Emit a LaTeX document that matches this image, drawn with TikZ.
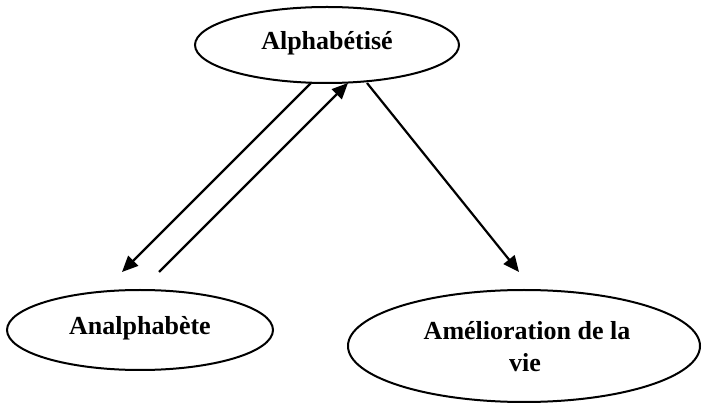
\documentclass[tikz,border=0pt]{standalone}
\usepackage{fontspec}
\setmainfont{Liberation Serif}
\usetikzlibrary{shapes.geometric,arrows.meta}
\begin{document}
\begin{tikzpicture}[x=1pt,y=-1pt,
  bubble/.style={draw,line width=2pt,ellipse,inner sep=0pt},
  lbl/.style={font=\fontsize{26}{31}\selectfont\bfseries,align=center},
  link/.style={line width=2.2pt,-{Triangle[length=16pt,width=14pt]}}]
  \useasboundingbox (0,0) rectangle (702,403);
  % the three states
  \node[bubble,minimum width=264pt,minimum height=76pt] (alpha) at (327,45) {};
  \node[bubble,minimum width=266pt,minimum height=80pt] (analpha) at (140,330) {};
  \node[bubble,minimum width=352pt,minimum height=112pt] (amelio) at (524,346) {};
  % labels
  \node[lbl,anchor=base] (talpha) at (327,50) {Alphabétisé};
  \node[lbl,anchor=base] (tanalpha) at (140,335) {Analphabète};
  \node[lbl,anchor=base] (tamelio1) at (527,340) {Amélioration de la};
  \node[lbl,anchor=base] (tamelio2) at (525,372) {vie};
  % arrow end points
  \coordinate (a1s) at (311,83);
  \coordinate (a1e) at (122,272);
  \coordinate (a2s) at (159,272);
  \coordinate (a2e) at (348,83);
  \coordinate (a3s) at (367,83);
  \coordinate (a3e) at (519,272);
  \draw[link] (a1s) -- (a1e);
  \draw[link] (a2s) -- (a2e);
  \draw[link] (a3s) -- (a3e);
\end{tikzpicture}
\end{document}
